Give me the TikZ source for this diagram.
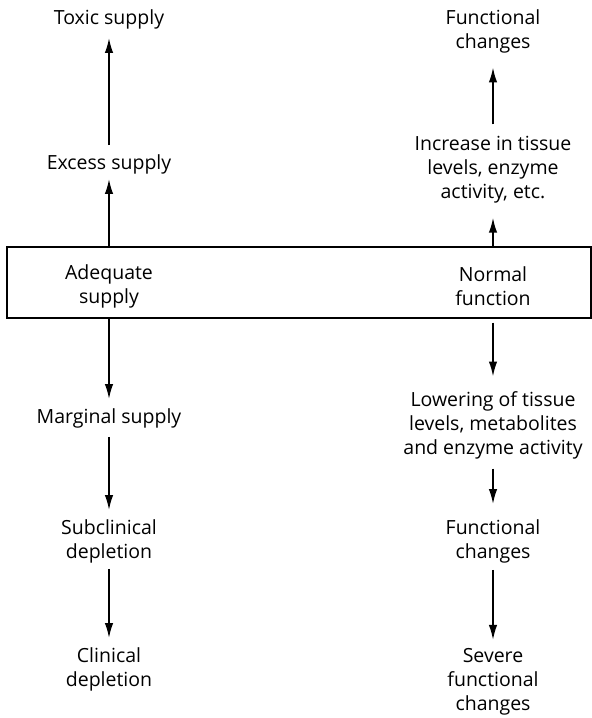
\documentclass[tikz,border=0pt]{standalone}
\usepackage{fontspec}
\setmainfont{Open Sans}
\usetikzlibrary{arrows.meta,calc}

\begin{document}
\begin{tikzpicture}[x=1pt,y=-1pt]
    \tikzset{every node/.style={font=\fontsize{19.5}{24}\selectfont,align=center,inner sep=0pt}}
    \tikzset{arr/.style={line width=1.7pt,-{Latex[length=15pt,width=8.5pt]},shorten <=9pt,shorten >=9pt}}
    \tikzset{level/.style={draw,line width=1.1pt,minimum width=584pt,minimum height=71pt}}
    \useasboundingbox (0,0) rectangle (592,718);
    \node[level] (box) at (299,282.5) {};
    % left column: supply
    \node (adequate) at (109,286) {Adequate\\supply};
    \node (excess) at (109,164) {Excess supply};
    \node (toxic) at (109,19) {Toxic supply};
    \node (marginal) at (109,418) {Marginal supply};
    \node (subclin) at (109,541) {Subclinical\\depletion};
    \node (clinical) at (109,669) {Clinical\\depletion};
    % right column: function
    \node (normal) at (493,286) {Normal\\function};
    \node (increase) at (493,170) {Increase in tissue\\levels, enzyme\\activity, etc.};
    \node (funcup) at (493,31.5) {Functional\\changes};
    \node (lowering) at (493,425.5) {Lowering of tissue\\levels, metabolites\\and enzyme activity};
    \node (funcdown) at (493,541) {Functional\\changes};
    \node (severe) at (493,681.5) {Severe\\functional\\changes};
    \draw[arr,shorten <=0pt,shorten >=5pt] (box.north -| excess) -- (excess);
    \draw[arr] (excess) -- (toxic);
    \draw[arr,shorten <=0pt] (box.south -| marginal) -- (marginal);
    \draw[arr] (marginal) -- (subclin);
    \draw[arr,shorten <=6pt] (subclin) -- (clinical);
    \draw[arr,shorten <=0pt,shorten >=14pt] (box.north -| increase) -- (increase);
    \draw[arr,shorten <=12pt,shorten >=14pt] (increase) -- (funcup);
    \draw[arr,shorten <=4pt,shorten >=15pt] (box.south -| lowering) -- (lowering);
    \draw[arr,shorten >=15pt] (lowering) -- (funcdown);
    \draw[arr,shorten <=7pt,shorten >=8pt] (funcdown) -- (severe);
\end{tikzpicture}
\end{document}
